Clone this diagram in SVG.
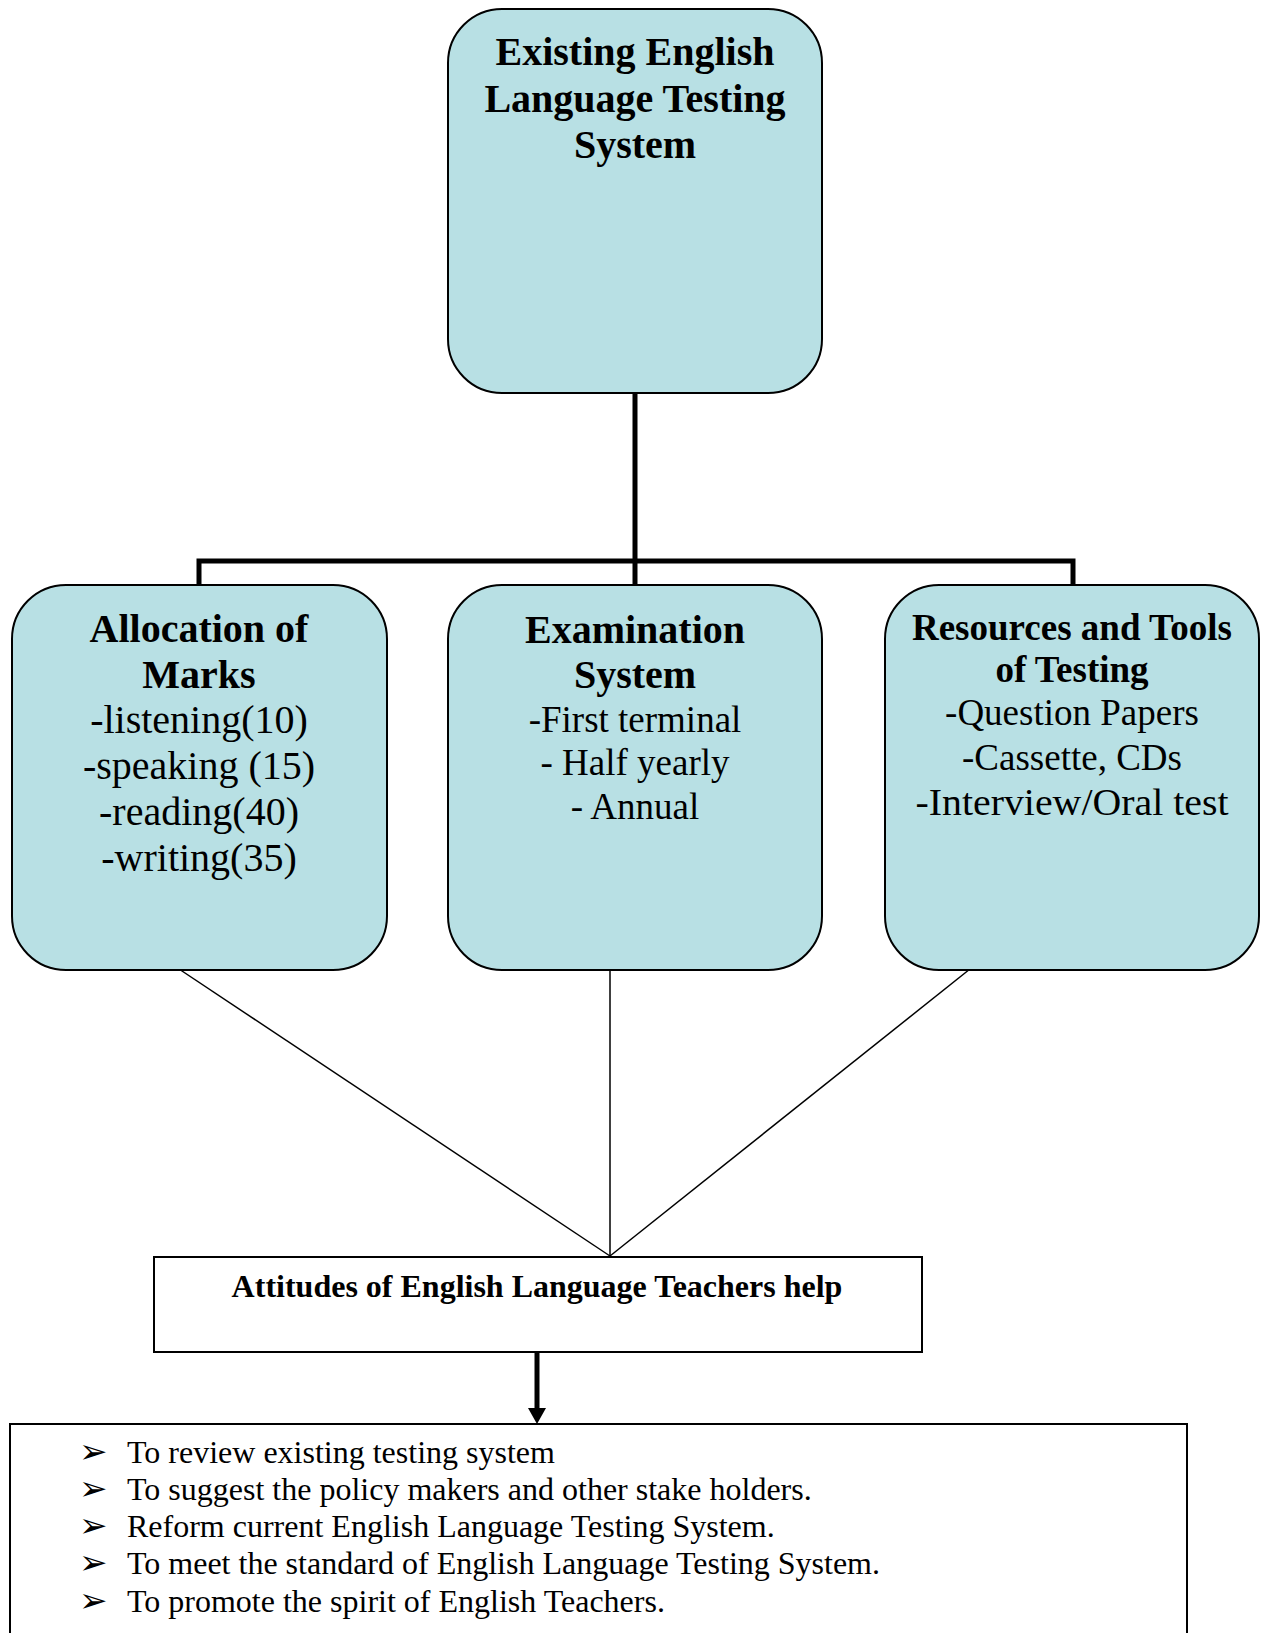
<svg xmlns="http://www.w3.org/2000/svg" width="1264" height="1633" viewBox="0 0 1264 1633">
<defs>
<style>
.box{fill:#B8E0E4;stroke:#000;stroke-width:2}
.rbox{fill:#fff;stroke:#000;stroke-width:2}
.b{font-family:"Liberation Serif","Times New Roman",serif;font-weight:bold;text-anchor:middle;fill:#000}
.r{font-family:"Liberation Serif","Times New Roman",serif;text-anchor:middle;fill:#000}
.l{font-family:"Liberation Serif","Times New Roman",serif;fill:#000;font-size:32px}
.bul{font-family:"DejaVu Sans",sans-serif;fill:#000;font-size:34px}
.thick{stroke:#000;stroke-width:5;fill:none}
.thin{stroke:#000;stroke-width:1.5;fill:none}
</style>
</defs>

<g id="connectors">
<polyline class="thick" points="635,393 635,561"/>
<polyline class="thick" points="199,585 199,561 1073,561 1073,585"/>
<line class="thick" x1="635" y1="561" x2="635" y2="585"/>
<line class="thin" x1="179" y1="969" x2="610" y2="1256"/>
<line class="thin" x1="610" y1="969" x2="610" y2="1256"/>
<line class="thin" x1="970" y1="969" x2="610" y2="1256"/>
<line class="thick" x1="537" y1="1352" x2="537" y2="1410"/>
<path d="M528,1408 L546,1408 L537,1424 Z" fill="#000"/>
</g>

<g id="node-top">
<rect class="box" x="448" y="9" width="374" height="384" rx="54" ry="54"/>
<text class="b" font-size="40" x="635" y="65">Existing English</text>
<text class="b" font-size="40" x="635" y="112">Language Testing</text>
<text class="b" font-size="40" x="635" y="158">System</text>
</g>

<g id="node-marks">
<rect class="box" x="12" y="585" width="375" height="385" rx="54" ry="54"/>
<text class="b" font-size="40" x="199" y="642">Allocation of</text>
<text class="b" font-size="40" x="199" y="688">Marks</text>
<text class="r" font-size="40" x="199" y="733">-listening(10)</text>
<text class="r" font-size="40" x="199" y="779">-speaking (15)</text>
<text class="r" font-size="40" x="199" y="825">-reading(40)</text>
<text class="r" font-size="40" x="199" y="871">-writing(35)</text>
</g>

<g id="node-exam">
<rect class="box" x="448" y="585" width="374" height="385" rx="54" ry="54"/>
<text class="b" font-size="40" x="635" y="643">Examination</text>
<text class="b" font-size="40" x="635" y="688">System</text>
<text class="r" font-size="37" x="635" y="732">-First terminal</text>
<text class="r" font-size="37" x="635" y="775">- Half yearly</text>
<text class="r" font-size="37" x="635" y="819">- Annual</text>
</g>

<g id="node-resources">
<rect class="box" x="885" y="585" width="374" height="385" rx="54" ry="54"/>
<text class="b" font-size="37" x="1072" y="640">Resources and Tools</text>
<text class="b" font-size="37" x="1072" y="682">of Testing</text>
<text class="r" font-size="37" x="1072" y="725">-Question Papers</text>
<text class="r" font-size="37" x="1072" y="770">-Cassette, CDs</text>
<text class="r" font-size="37" x="1072" y="815" textLength="313" lengthAdjust="spacingAndGlyphs">-Interview/Oral test</text>
</g>

<g id="node-attitudes">
<rect class="rbox" x="154" y="1257" width="768" height="95"/>
<text class="b" font-size="32" x="537" y="1297">Attitudes of English Language Teachers help</text>
</g>

<g id="node-goals">
<rect class="rbox" x="10" y="1424" width="1177" height="240"/>
<text class="bul" x="79" y="1463">➢</text>
<text class="l" x="127" y="1463">To review existing testing system</text>
<text class="bul" x="79" y="1500">➢</text>
<text class="l" x="127" y="1500">To suggest the policy makers and other stake holders.</text>
<text class="bul" x="79" y="1537">➢</text>
<text class="l" x="127" y="1537">Reform current English Language Testing System.</text>
<text class="bul" x="79" y="1574">➢</text>
<text class="l" x="127" y="1574">To meet the standard of English Language Testing System.</text>
<text class="bul" x="79" y="1612">➢</text>
<text class="l" x="127" y="1612">To promote the spirit of English Teachers.</text>
</g>
</svg>
